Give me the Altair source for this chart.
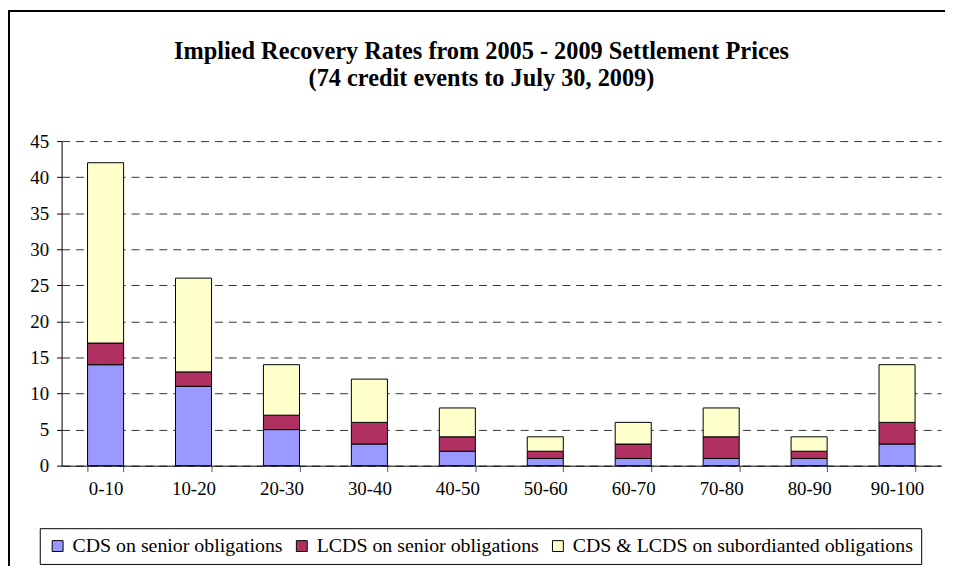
import altair as alt
import pandas as pd

categories = ["0-10", "10-20", "20-30", "30-40", "40-50", "50-60", "60-70", "70-80", "80-90", "90-100"]
series_names = ["CDS on senior obligations", "LCDS on senior obligations", "CDS & LCDS on subordianted obligations"]
cds_senior = [14, 11, 5, 3, 2, 1, 1, 1, 1, 3]
lcds_senior = [3, 2, 2, 3, 2, 1, 2, 3, 1, 3]
subordinated = [25, 13, 7, 6, 4, 2, 3, 4, 2, 8]
colors = ["#9999FF", "#B03062", "#FFFFCC"]
y_ticks = [0, 5, 10, 15, 20, 25, 30, 35, 40, 45]
title_lines = ["Implied Recovery Rates from 2005 - 2009 Settlement Prices",
               "(74 credit events to July 30, 2009)"]

rows = []
for si, (name, vals) in enumerate(zip(series_names, [cds_senior, lcds_senior, subordinated])):
    for c, v in zip(categories, vals):
        rows.append({"range": c, "series": name, "order": si, "count": v})
df = pd.DataFrame(rows)

FONT = "Liberation Serif, Times New Roman, DejaVu Serif, serif"

bars = alt.Chart(df).mark_bar(stroke="black", strokeWidth=1).encode(
    x=alt.X("range:N", sort=categories,
            scale=alt.Scale(paddingInner=0.59, paddingOuter=0.295),
            axis=alt.Axis(title=None, labelAngle=0, labelFont=FONT, labelFontSize=19,
                          labelColor="black", labelPadding=8, tickBand="extent",
                          tickSize=6, tickColor="#555", domainColor="black",
                          grid=False)),
    y=alt.Y("count:Q", stack="zero",
            scale=alt.Scale(domain=[0, 45], nice=False),
            axis=alt.Axis(title=None, values=y_ticks, labelFont=FONT, labelFontSize=19,
                          labelColor="black", labelPadding=8, tickSize=5,
                          tickColor="black", domainColor="black",
                          grid=True, gridColor="#333333", gridDash=[8, 6], gridWidth=1)),
    color=alt.Color("series:N", scale=alt.Scale(domain=series_names, range=colors),
                    legend=alt.Legend(title=None, orient="none", legendX=-22, legendY=390,
                                      direction="horizontal", symbolType="square",
                                      symbolSize=120, symbolStrokeColor="black",
                                      symbolStrokeWidth=1, labelFont=FONT, labelFontSize=20,
                                      labelColor="black", labelLimit=800, strokeColor="black",
                                      fillColor="white", padding=8, columnPadding=9,
                                      labelOffset=5)),
    order=alt.Order("order:Q"),
)

border_left = alt.Chart(alt.Data(values=[{}])).mark_rule(
    stroke="black", strokeWidth=2
).encode(x=alt.value(-53), y=alt.value(-132), y2=alt.value(600))
border_top = alt.Chart(alt.Data(values=[{}])).mark_rule(
    stroke="black", strokeWidth=2
).encode(x=alt.value(-54), x2=alt.value(1000), y=alt.value(-131))

title_df = pd.DataFrame({"line": title_lines, "idx": [0, 1]})
title1 = alt.Chart(title_df).transform_filter("datum.idx == 0").mark_text(
    font=FONT, fontSize=24.5, fontWeight="bold", color="black", align="center", baseline="middle"
).encode(text="line:N", x=alt.value(423), y=alt.value(-90))
title2 = alt.Chart(title_df).transform_filter("datum.idx == 1").mark_text(
    font=FONT, fontSize=24.5, fontWeight="bold", color="black", align="center", baseline="middle"
).encode(text="line:N", x=alt.value(423), y=alt.value(-63))

chart = alt.layer(border_left, border_top, title1, title2, bars).properties(
    width=886, height=327,
    autosize=alt.AutoSizeParams(type="none"),
    padding={"left": 54, "top": 132, "right": 4, "bottom": 99},
).configure_view(stroke=None)

chart.save("out.html", embed_options={"renderer": "svg", "actions": False})
